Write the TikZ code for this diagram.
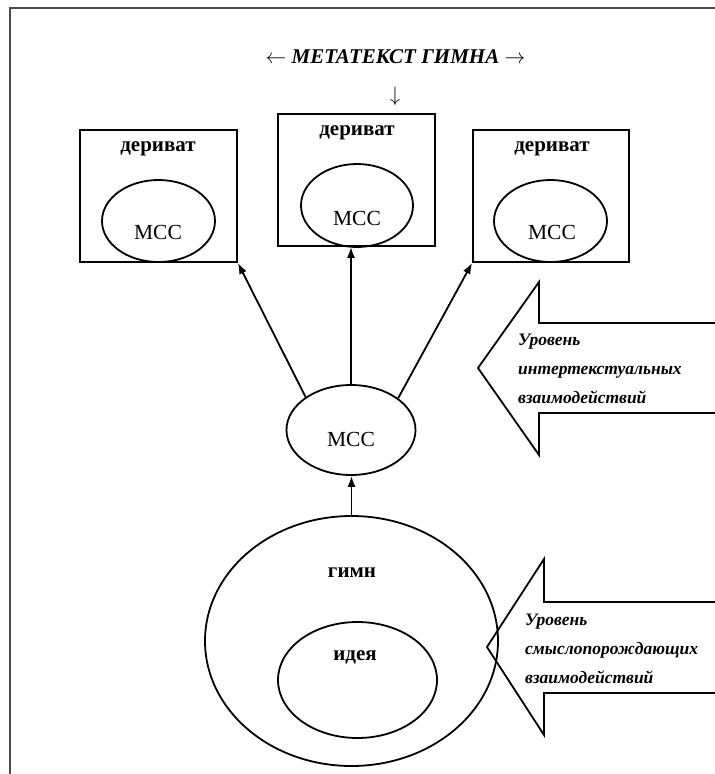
\documentclass[tikz,border=0pt]{standalone}
\usepackage{fontspec}
\setmainfont{Liberation Serif}
\usetikzlibrary{shapes.geometric,arrows.meta,calc}
\tikzset{
  boxnode/.style={draw,line width=1.8pt,rectangle,inner sep=0pt},
  ellnode/.style={draw,line width=1.8pt,ellipse,inner sep=0pt},
  lbl/.style={font=\fontsize{21}{25}\selectfont\bfseries,inner sep=0pt},
  mcclbl/.style={font=\fontsize{21.5}{25}\selectfont,inner sep=0pt},
  sidelbl/.style={font=\fontsize{17.5}{29}\selectfont\bfseries\itshape,align=left,inner sep=0pt,anchor=west},
  conn/.style={line width=1.8pt,-{Latex[length=11pt,width=8pt]}},
  bigarrow/.style={line width=1.8pt,line join=miter}
}
\begin{document}
\begin{tikzpicture}[x=1pt,y=-1pt]
\useasboundingbox (0,0) rectangle (715,774);
\clip (0,0) rectangle (715,774);
% frame
\draw[line width=2.5pt,black!70] (10,790) -- (10,8) -- (730,8);
% title
\node[font=\fontsize{21}{25}\selectfont\bfseries\itshape,inner sep=0pt] (title) at (395.5,57) {$\leftarrow$ МЕТАТЕКСТ ГИМНА $\rightarrow$};
\node[font=\fontsize{21}{25}\selectfont,inner sep=0pt] (down) at (395,96) {$\downarrow$};
% boxes
\node[boxnode,minimum width=157pt,minimum height=132pt] (lbox) at (158.5,196) {};
\node[boxnode,minimum width=157pt,minimum height=132pt] (mbox) at (356.5,180) {};
\node[boxnode,minimum width=156pt,minimum height=132pt] (rbox) at (551,196) {};
% inner ellipses
\node[ellnode,minimum width=113pt,minimum height=82pt] (lell) at (158.5,221) {};
\node[ellnode,minimum width=112pt,minimum height=83pt] (mell) at (357,205.5) {};
\node[ellnode,minimum width=113pt,minimum height=82pt] (rell) at (550.5,221) {};
\node[lbl] (lder) at (158,149) {дериват};
\node[lbl] (mder) at (357,133) {дериват};
\node[lbl] (rder) at (552,149) {дериват};
\node[mcclbl] (lmcc) at (158,232) {МСС};
\node[mcclbl] (mmcc) at (357,218) {МСС};
\node[mcclbl] (rmcc) at (552,232) {МСС};
% central MCC
\node[ellnode,minimum width=129pt,minimum height=90pt] (mcc) at (351,430) {};
\node[mcclbl] (mcctext) at (351,439) {МСС};
% hymn
\node[ellnode,minimum width=293pt,minimum height=250pt] (gimn) at (351.5,641) {};
\node[ellnode,minimum width=159pt,minimum height=116pt] (ideya) at (357.5,680) {};
\node[lbl] (gimntext) at (352,573) {гимн};
\node[lbl] (ideyatext) at (355,657) {идея};
% connectors
\draw[conn] (mcc.north) -- (mcc.north |- mbox.south);
\draw[conn] (mcc.144) -- (lbox.south east);
\draw[conn] (mcc.34) -- (rbox.south west);
\draw[conn] (gimn.north) -- (gimn.north |- mcc.south);
% big arrows
\draw[bigarrow] (740,323) -- (539,323) -- (539,282) -- (478,368) -- (539,455) -- (539,413) -- (740,413);
\node[sidelbl] (lev1) at (518,369) {Уровень\\интертекстуальных\\взаимодействий};
\draw[bigarrow] (740,602) -- (544,602) -- (544,559) -- (487,647) -- (544,735) -- (544,693) -- (740,693);
\node[sidelbl] (lev2) at (525,649) {Уровень\\смыслопорождающих\\взаимодействий};
\end{tikzpicture}
\end{document}
